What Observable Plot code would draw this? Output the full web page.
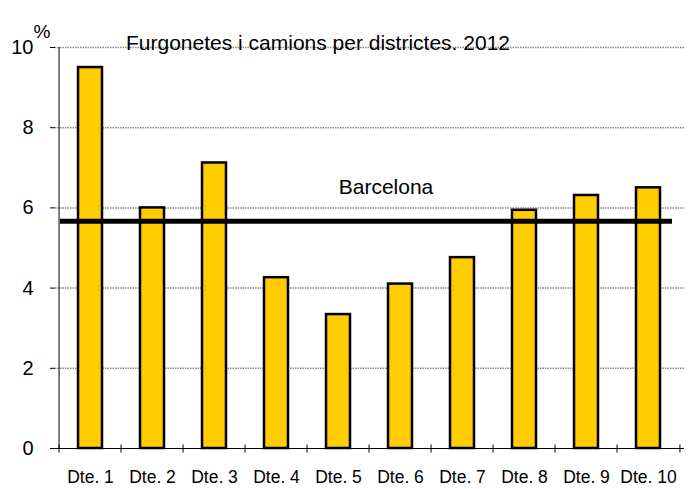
<!DOCTYPE html>
<html><head><meta charset="utf-8">
<script src="https://cdn.jsdelivr.net/npm/d3@7"></script>
<script src="https://cdn.jsdelivr.net/npm/@observablehq/plot@0.6"></script>
<style>body{margin:0;background:#fff;font-family:"Liberation Sans",Arial,sans-serif}</style>
</head><body><div id="chart"></div>
<script>
const districts = ["Dte. 1","Dte. 2","Dte. 3","Dte. 4","Dte. 5","Dte. 6","Dte. 7","Dte. 8","Dte. 9","Dte. 10"];
const values = [9.5, 6.0, 7.12, 4.26, 3.34, 4.1, 4.76, 5.94, 6.31, 6.5];
const barcelona = 5.67;
const yTicks = [0, 2, 4, 6, 8, 10];
const title = "Furgonetes i camions per districtes. 2012";
const unit = "%";
const refLabel = "Barcelona";

const W = 688, H = 489, mL = 55, mR = 4, mT = 47, mB = 41;
const step = (W - mL - mR) / districts.length;
const data = districts.map((d, i) => ({d, v: values[i]}));

const plot = Plot.plot({
  width: W, height: H,
  marginLeft: mL, marginRight: mR, marginTop: mT, marginBottom: mB,
  style: {fontFamily: "'Liberation Sans', Arial, sans-serif", background: "#fff"},
  x: {type: "band", domain: districts, paddingInner: 0.61, paddingOuter: 0.305, label: null, axis: null},
  y: {domain: [0, 10], label: null, axis: null},
  marks: [
    Plot.gridY(yTicks.filter(t => t > 0), {stroke: "#8a8a8a", strokeOpacity: 1, strokeWidth: 1.5, strokeDasharray: "1.5,1"}),
    Plot.barY(data, {x: "d", y: "v", fill: "#FFCC00", stroke: "#000", strokeWidth: 2.5}),
    Plot.ruleY([barcelona], {stroke: "#000", strokeWidth: 5, insetLeft: 5, insetRight: 12}),
    Plot.text([refLabel], {frameAnchor: "middle", y: [barcelona], text: d => d, dx: 16, dy: -34, fontSize: 21, fill: "#000"}),
    Plot.ruleX([districts[0]], {dx: -step / 2, y1: 0, y2: 10, stroke: "#000", strokeWidth: 1}),
    Plot.ruleY([0], {stroke: "#000", strokeWidth: 1}),
    Plot.ruleX(districts, {x: d => d, y: 0, dx: -step / 2, insetTop: -3.5, insetBottom: -4.5, stroke: "#000", strokeWidth: 1}),
    Plot.ruleX([districts[districts.length - 1]], {y: 0, dx: step / 2, insetTop: -3.5, insetBottom: -4.5, stroke: "#000", strokeWidth: 1}),
    Plot.axisY({ticks: yTicks, tickSize: 5, tickPadding: 17, fontSize: 20, fill: "#000", stroke: "#000"}),
    Plot.axisX({tickSize: 0, tickPadding: 22, fontSize: 17.5, fill: "#000"}),
    Plot.text([title], {frameAnchor: "top", text: d => d, dy: -12.5, dx: -52, fontSize: 21, fill: "#000"}),
    Plot.text([unit], {frameAnchor: "top-left", textAnchor: "middle", text: d => d, dx: -13.5, dy: -23, fontSize: 19, fill: "#000"})
  ]
});
document.getElementById("chart").appendChild(plot);
</script></body></html>
